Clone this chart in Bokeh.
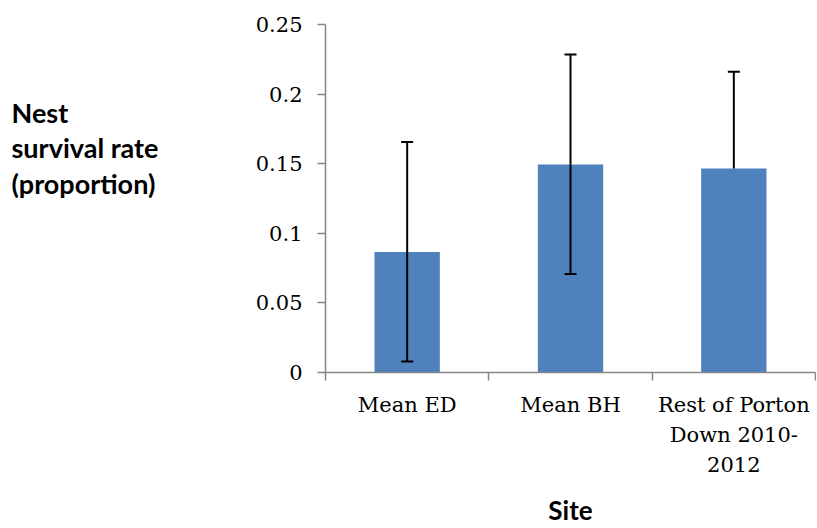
from bokeh.plotting import figure
from bokeh.layouts import row
from bokeh.models import Range1d, FixedTicker, Whisker, ColumnDataSource, TeeHead, Label
from bokeh.embed import file_html
from bokeh.resources import INLINE

# ---- data ----
categories = ["Mean ED", "Mean BH", "Rest of Porton Down 2010-2012"]
category_labels = ["Mean ED", "Mean BH", "Rest of Porton\nDown 2010-\n2012"]
survival = [0.0865, 0.1495, 0.1466]
err_upper = [0.1655, 0.2285, 0.2160]
err_lower = [0.0079, 0.0708, None]   # third bar only shows a plus error bar
y_ticks = [0, 0.05, 0.1, 0.15, 0.2, 0.25]
y_tick_labels = ["0", "0.05", "0.1", "0.15", "0.2", "0.25"]
y_title = "Nest\nsurvival rate\n(proportion)"
x_title = "Site"

AXIS_COL = "#868686"
BAR_COL = "#4F81BD"
SERIF = "DejaVu Serif"

H = 528
W_LEFT = 240
W_MAIN = 576

n = len(categories)
xs = [i + 0.5 for i in range(n)]
bounds = list(range(n + 1))

# ---- left panel holding the horizontal y-axis title ----
pl = figure(width=W_LEFT, height=H, output_backend="svg", toolbar_location=None,
            x_range=Range1d(0, W_LEFT), y_range=Range1d(H, 0),
            min_border=0)
pl.axis.visible = False
pl.grid.visible = False
pl.outline_line_color = None
pl.add_layout(Label(x=11, y=187, text=y_title, text_baseline="middle",
                    text_align="left", text_font="Lato", text_font_style="bold",
                    text_font_size="27px", text_line_height=1.07,
                    text_color="black"))

# ---- main chart ----
p = figure(width=W_MAIN, height=H, output_backend="svg", toolbar_location=None,
           x_range=Range1d(0, n), y_range=Range1d(0, 0.25),
           min_border_left=85, min_border_right=1, min_border_top=24,
           min_border_bottom=155)
p.outline_line_color = None
p.xgrid.visible = False
p.ygrid.visible = False

src = ColumnDataSource(dict(x=xs, top=survival, up=err_upper, name=categories))
p.vbar(x="x", top="top", bottom=0, width=0.4, source=src,
       fill_color=BAR_COL, line_color=None)

w_up = Whisker(source=src, base="x", lower="top", upper="up", dimension="height",
               line_color="black", line_width=2, level="annotation",
               upper_head=TeeHead(size=12, line_color="black", line_width=2),
               lower_head=None)
p.add_layout(w_up)

lo_idx = [i for i in range(n) if err_lower[i] is not None]
src_lo = ColumnDataSource(dict(x=[xs[i] for i in lo_idx],
                               lo=[err_lower[i] for i in lo_idx],
                               top=[survival[i] for i in lo_idx]))
w_lo = Whisker(source=src_lo, base="x", lower="lo", upper="top", dimension="height",
               line_color="black", line_width=2, level="annotation",
               lower_head=TeeHead(size=12, line_color="black", line_width=2),
               upper_head=None)
p.add_layout(w_lo)

# y axis
ya = p.yaxis[0]
ya.ticker = FixedTicker(ticks=y_ticks)
ya.major_label_overrides = {t: l for t, l in zip(y_ticks, y_tick_labels)}
ya.axis_line_color = AXIS_COL
ya.axis_line_width = 1.5
ya.major_tick_line_color = AXIS_COL
ya.major_tick_line_width = 1.5
ya.major_tick_in = 0
ya.major_tick_out = 8
ya.minor_tick_line_color = None
ya.major_label_text_font = SERIF
ya.major_label_text_font_size = "21px"
ya.major_label_text_color = "black"
ya.major_label_standoff = 15

# x axis
xa = p.xaxis[0]
xa.ticker = FixedTicker(ticks=xs, minor_ticks=bounds)
xa.major_label_overrides = {x: l for x, l in zip(xs, category_labels)}
xa.axis_line_color = AXIS_COL
xa.axis_line_width = 1.5
xa.major_tick_line_color = None
xa.minor_tick_line_color = AXIS_COL
xa.minor_tick_line_width = 1.5
xa.minor_tick_in = 0
xa.minor_tick_out = 8
xa.major_label_text_font = SERIF
xa.major_label_text_font_size = "21px"
xa.major_label_text_color = "black"
xa.major_label_text_line_height = 1.26
xa.major_label_standoff = 12
xa.axis_label = x_title
xa.axis_label_text_font = "Lato"
xa.axis_label_text_font_style = "bold"
xa.axis_label_text_font_size = "26px"
xa.axis_label_text_color = "black"
xa.axis_label_standoff = 14

layout = row(pl, p, spacing=0)
open("out.html", "w").write(file_html(layout, INLINE))
